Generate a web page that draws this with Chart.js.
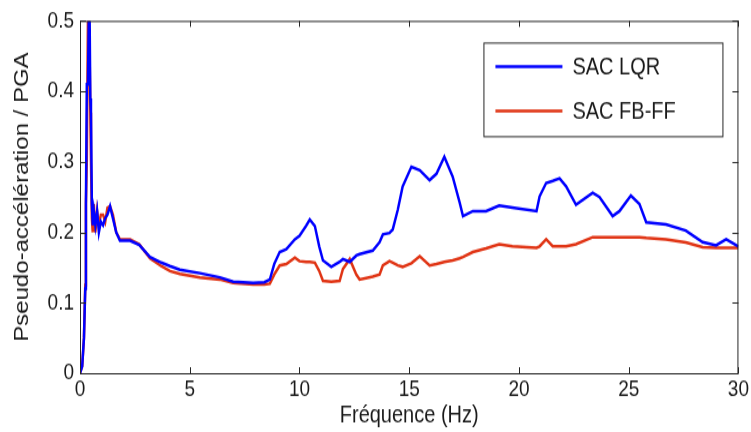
<!DOCTYPE html>
<html>
<head>
<meta charset="utf-8">
<script src="https://cdn.jsdelivr.net/npm/chart.js@4.4.0/dist/chart.umd.min.js"></script>
<style>
  html, body { margin: 0; padding: 0; background: #fff; }
  #page { width: 751px; height: 432px; overflow: hidden; }
  #wrap { width: 751px; height: 360px; transform: scaleY(1.2); transform-origin: 0 0; }
</style>
</head>
<body>
<div id="page"><div id="wrap"><canvas id="chart" width="751" height="360"></canvas></div></div>
<script>
// Fréquence (Hz)
const freq = [0.0, 0.1, 0.18, 0.24, 0.27, 0.31, 0.36, 0.40, 0.44, 0.47, 0.50, 0.54, 0.58, 0.63, 0.70, 0.78, 0.86, 0.95, 1.05, 1.15,
  1.25, 1.37, 1.5, 1.65, 1.82, 2.28, 2.7, 3.19, 3.7, 4.1, 4.55, 5.46, 6.37, 6.98, 7.89, 8.4, 8.65, 8.85, 9.1, 9.4,
  9.79, 10.0, 10.3, 10.47, 10.7, 10.9, 11.07, 11.45, 11.83, 11.98, 12.29, 12.59, 12.74, 13.34, 13.65, 13.8, 14.1, 14.25, 14.48, 14.7,
  15.1, 15.48, 15.93, 16.24, 16.6, 16.98, 17.3, 17.45, 17.9, 18.5, 19.1, 19.7, 20.8, 20.94, 21.24, 21.54, 21.85, 22.15, 22.6, 23.36,
  23.67, 24.27, 24.58, 25.1, 25.49, 25.8, 26.7, 27.6, 28.37, 28.98, 29.44, 30];

// SAC LQR
const lqr = [0, 0.01, 0.05, 0.12, 0.24, 0.41, 0.41, 0.5, 0.5, 0.39, 0.37, 0.24, 0.21, 0.23, 0.21, 0.23, 0.20, 0.215, 0.21, 0.22,
  0.225, 0.237, 0.22, 0.2, 0.188, 0.188, 0.182, 0.165, 0.157, 0.152, 0.147, 0.142, 0.136, 0.130, 0.128, 0.129, 0.133, 0.155, 0.172, 0.176,
  0.19, 0.195, 0.209, 0.218, 0.209, 0.18, 0.16, 0.151, 0.158, 0.162, 0.158, 0.167, 0.169, 0.174, 0.186, 0.197, 0.199, 0.204, 0.232, 0.265,
  0.293, 0.288, 0.274, 0.283, 0.307, 0.279, 0.242, 0.223, 0.23, 0.23, 0.238, 0.235, 0.23, 0.251, 0.27, 0.273, 0.2765, 0.265, 0.239, 0.256,
  0.25, 0.223, 0.23, 0.252, 0.24, 0.214, 0.211, 0.2025, 0.186, 0.1815, 0.19, 0.18];

// SAC FB-FF
const fbff = [0, 0.01, 0.05, 0.125, 0.24, 0.3, 0.5, 0.5, 0.45, 0.37, 0.30, 0.22, 0.20, 0.24, 0.20, 0.23, 0.21, 0.225, 0.225, 0.215,
  0.235, 0.237, 0.225, 0.2, 0.19, 0.19, 0.183, 0.163, 0.152, 0.145, 0.141, 0.136, 0.133, 0.128, 0.126, 0.126, 0.127, 0.14, 0.153, 0.155,
  0.164, 0.159, 0.158, 0.158, 0.157, 0.145, 0.131, 0.13, 0.131, 0.148, 0.162, 0.14, 0.133, 0.137, 0.14, 0.153, 0.159, 0.157, 0.153, 0.151,
  0.156, 0.166, 0.153, 0.155, 0.158, 0.16, 0.163, 0.165, 0.172, 0.177, 0.183, 0.18, 0.178, 0.18, 0.19, 0.18, 0.18, 0.18, 0.183, 0.193,
  0.193, 0.193, 0.193, 0.193, 0.193, 0.192, 0.19, 0.1855, 0.179, 0.178, 0.178, 0.178];

const xTicks = [0, 5, 10, 15, 20, 25, 30];
const yTicks = [0, 0.1, 0.2, 0.3, 0.4, 0.5];

const FONT = "'Liberation Sans', Arial, sans-serif";
const INK = '#262626';

function toPoints(ys) {
    return freq.map((f, i) => ({ x: f, y: ys[i] }));
}

// box round the plot with inward ticks, like matlab
const boxPlugin = {
    id: 'box',
    afterDraw(chart) {
        const { ctx, chartArea: a, scales } = chart;
        ctx.save();
        ctx.strokeStyle = INK;
        ctx.lineWidth = 1;
        ctx.strokeRect(a.left + 0.5, a.top + 0.5, a.right - a.left - 1, a.bottom - a.top);
        ctx.beginPath();
        xTicks.forEach(v => {
            const px = Math.round(scales.x.getPixelForValue(v)) + 0.5;
            ctx.moveTo(px, a.bottom); ctx.lineTo(px, a.bottom - 5);
            ctx.moveTo(px, a.top); ctx.lineTo(px, a.top + 5);
        });
        yTicks.forEach(v => {
            const py = Math.round(scales.y.getPixelForValue(v)) + 0.5;
            ctx.moveTo(a.left, py); ctx.lineTo(a.left + 6, py);
            ctx.moveTo(a.right, py); ctx.lineTo(a.right - 6, py);
        });
        ctx.stroke();
        ctx.restore();
    }
};

// legend box inside the plot, top right
const legendPlugin = {
    id: 'boxLegend',
    afterDraw(chart) {
        const { ctx, chartArea: a } = chart;
        const w = 239, h = 78;
        const left = a.right - 16 - w, top = a.top + 18;
        ctx.save();
        ctx.fillStyle = '#fff';
        ctx.fillRect(left, top, w, h);
        ctx.strokeStyle = INK;
        ctx.lineWidth = 1;
        ctx.strokeRect(left + 0.5, top + 0.5, w, h);
        ctx.font = '20px ' + FONT;
        ctx.textBaseline = 'middle';
        chart.data.datasets.forEach((ds, i) => {
            const y = top + 20 + i * 37;
            ctx.strokeStyle = ds.borderColor;
            ctx.lineWidth = 2.5;
            ctx.beginPath();
            ctx.moveTo(left + 12, y);
            ctx.lineTo(left + 79, y);
            ctx.stroke();
            ctx.fillStyle = '#1a1a1a';
            ctx.fillText(ds.label, left + 89, y + 1);
        });
        ctx.restore();
    }
};

new Chart(document.getElementById('chart'), {
    type: 'line',
    data: {
        datasets: [
            { label: 'SAC LQR', data: toPoints(lqr), borderColor: '#0000ff', borderWidth: 2.5, pointRadius: 0, tension: 0 },
            { label: 'SAC FB-FF', data: toPoints(fbff), borderColor: 'rgb(224, 52, 20)', borderWidth: 2.5, pointRadius: 0, tension: 0 }
        ]
    },
    options: {
        responsive: false,
        animation: false,
        layout: { padding: { left: 0, right: 12, top: 12, bottom: 0 } },
        plugins: { legend: { display: false }, tooltip: { enabled: false } },
        scales: {
            x: {
                type: 'linear', min: 0, max: 30,
                afterBuildTicks: s => { s.ticks = xTicks.map(v => ({ value: v })); },
                afterFit: s => { s.height = 49; },
                grid: { display: false, drawTicks: false },
                border: { display: false },
                ticks: { color: '#1a1a1a', font: { family: FONT, size: 19 }, padding: 2, maxRotation: 0 },
                title: { display: true, text: 'Fréquence (Hz)', color: '#1a1a1a', font: { family: FONT, size: 20 }, padding: { top: 0, bottom: 2 } }
            },
            y: {
                min: 0, max: 0.5,
                afterBuildTicks: s => { s.ticks = yTicks.map(v => ({ value: v })); },
                afterFit: s => { s.width = 80; },
                grid: { display: false, drawTicks: false },
                border: { display: false },
                ticks: { color: '#1a1a1a', font: { family: FONT, size: 19 }, padding: 6, callback: v => String(+v.toFixed(1)) },
                title: { display: true, text: 'Pseudo-accélération / PGA', color: '#1a1a1a', font: { family: FONT, size: 20 }, padding: { top: 10, bottom: 0 } }
            }
        }
    },
    plugins: [boxPlugin, legendPlugin]
});
</script>
</body>
</html>
